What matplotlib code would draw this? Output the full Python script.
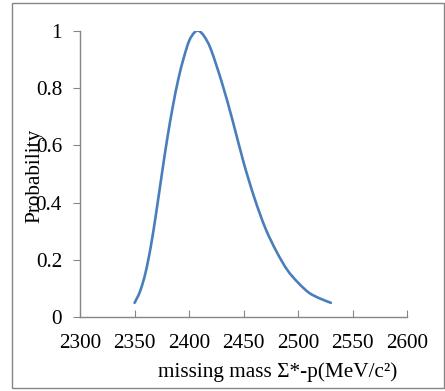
import matplotlib.pyplot as plt
import numpy as np
from matplotlib.path import Path
from matplotlib.patches import Rectangle, PathPatch

# values
mass = [2350, 2355, 2360, 2365, 2370, 2375, 2380, 2385, 2390, 2395, 2400,
        2405, 2409, 2414, 2420, 2430, 2440, 2450, 2460, 2470, 2480, 2490,
        2500, 2510, 2520, 2530]
prob = [0.05, 0.09, 0.155, 0.25, 0.37, 0.50, 0.625, 0.735, 0.83, 0.905,
        0.965, 0.995, 1.00, 0.98, 0.935, 0.82, 0.685, 0.54, 0.415, 0.31,
        0.23, 0.165, 0.12, 0.085, 0.065, 0.05]
x_ticks = [2300, 2350, 2400, 2450, 2500, 2550, 2600]
y_ticks = [0, 0.2, 0.4, 0.6, 0.8, 1]

plt.rcParams['font.family'] = ['Liberation Serif', 'DejaVu Serif']
gray = '#868686'
fs = 15.3


def smooth_path(xs, ys):
    # Excel-style smoothed line: Catmull-Rom segments as cubic beziers
    p = np.column_stack([xs, ys]).astype(float)
    verts = [p[0]]
    codes = [Path.MOVETO]
    n = len(p)
    for i in range(n - 1):
        p0 = p[i - 1] if i > 0 else p[i]
        p3 = p[i + 2] if i + 2 < n else p[i + 1]
        c1 = p[i] + (p[i + 1] - p0) / 6
        c2 = p[i + 1] - (p3 - p[i]) / 6
        verts += [c1, c2, p[i + 1]]
        codes += [Path.CURVE4] * 3
    return Path(verts, codes)


fig = plt.figure(figsize=(4.45, 3.91), dpi=100)
ax = fig.add_axes([0.18, 0.189, 0.735, 0.732])

ax.add_patch(PathPatch(smooth_path(mass, prob), fill=False,
                       edgecolor='#4a7ebb', lw=1.9, capstyle='round'))

ax.set_xlim(2300, 2600)
ax.set_ylim(0, 1)
ax.set_xticks(x_ticks)
ax.set_xticklabels([str(v) for v in x_ticks])
ax.set_yticks(y_ticks)
ax.set_yticklabels(['0', '0.2', '0.4', '0.6', '0.8', '1'])
ax.tick_params(axis='x', direction='in', length=5, color=gray, labelsize=fs, pad=12)
ax.tick_params(axis='y', direction='out', length=5, color=gray, labelsize=fs, pad=8)

for s in ['top', 'right']:
    ax.spines[s].set_visible(False)
for s in ['left', 'bottom']:
    ax.spines[s].set_color(gray)
    ax.spines[s].set_linewidth(1.0)

fig.text(0.624, 0.048, 'missing mass \u03a3*-p(MeV/c\u00b2)', fontsize=fs,
         ha='center', va='center')
fig.text(0.079, 0.55, 'Probability', fontsize=fs, rotation=90,
         ha='center', va='center')

fig.patches.append(Rectangle((12 / 445, 3 / 391), 432 / 445, 385 / 391,
                             transform=fig.transFigure, fill=False,
                             edgecolor=gray, lw=1.0))

fig.savefig('out.png', dpi=100)
